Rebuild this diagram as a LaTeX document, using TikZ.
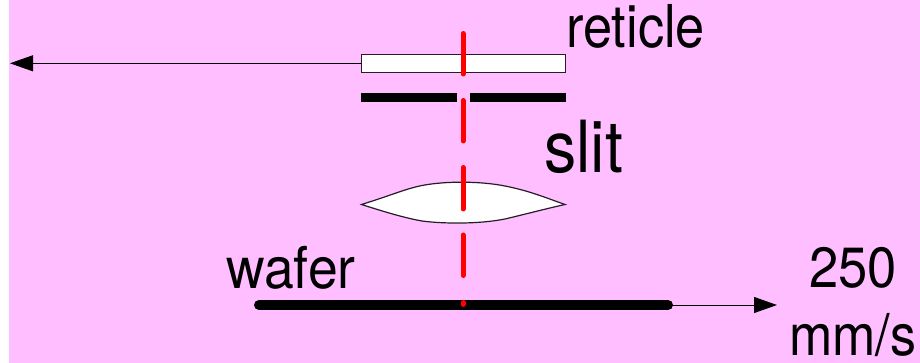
\documentclass[tikz,border=0pt]{standalone}
\usepackage{fontspec}
\setmainfont{TeX Gyre Heros}
\usetikzlibrary{arrows.meta}
\definecolor{bgpink}{RGB}{255,190,255}
\tikzset{
  lbl/.style={inner sep=0pt,anchor=base west,text=black,transform shape},
  thin line/.style={draw=black!85!bgpink,line width=0.9pt},
  mover/.style={draw=black,line width=0.75pt,-{Triangle[length=17.25pt,width=12pt]}},
  blade/.style={draw=black,line width=6.2pt},
  beam/.style={draw=red,line width=3.75pt,line cap=round},
}
\begin{document}
\begin{tikzpicture}[x=0.75pt,y=-0.75pt]
\useasboundingbox (0,0) rectangle (920,363);
\fill[white] (0,0) rectangle (920,363);
\fill[bgpink] (9,0) rectangle (920,363);
% reticle
\node[thin line,fill=white,minimum width=153pt,minimum height=13.5pt,inner sep=0pt,outer sep=0pt,anchor=north west] (reticle) at (361.3,54.3) {};
\coordinate (leftend) at (10,0);
\draw[mover] (reticle.west) -- (leftend |- reticle.west);
% slit blades
\coordinate (s1) at (361,97.5);
\coordinate (s2) at (457,97.5);
\coordinate (s3) at (470,97.5);
\coordinate (s4) at (566,97.5);
\draw[blade] (s1) -- (s2);
\draw[blade] (s3) -- (s4);
% lens
\draw[thin line,fill=white] (361.5,204.5) .. controls (395,194) and (405,189) .. (422,185.5)
  .. controls (445,181) and (480,181) .. (505,186)
  .. controls (530,191) and (545,197.5) .. (565,204.5)
  .. controls (545,209) and (530,213) .. (505,219)
  .. controls (480,224) and (445,224) .. (422,221)
  .. controls (405,218) and (385,212) .. (361.5,204.5) -- cycle;
% wafer
\coordinate (w1) at (259,305);
\coordinate (w2) at (668,305);
\coordinate (rightend) at (777,305);
\draw[mover] (w2) -- (rightend);
\draw[draw=black,line width=7.5pt,line cap=round] (w1) -- (w2);
% red beam
\foreach \a/\b in {33.5/74,100.5/141,167.5/209,235/275.5,302.5/304.5}{
  \coordinate (ba) at (463,\a);
  \coordinate (bb) at (463,\b);
  \draw[beam] (ba) -- (bb);
}
% labels
\node[lbl,font=\fontsize{38.5pt}{38.5pt}\selectfont,xscale=1.02,yscale=1.15] (lr) at (566,47.5) {reticle};
\node[lbl,font=\fontsize{46.5pt}{46.5pt}\selectfont,xscale=1.04,yscale=1.16] (ls) at (544,172.5) {slit};
\node[lbl,font=\fontsize{39pt}{39pt}\selectfont,xscale=1.03,yscale=1.11] (lw) at (226,288) {wafer};
\node[lbl,font=\fontsize{39pt}{39pt}\selectfont,xscale=1.01,yscale=1.09] (l2) at (809,287.5) {250};
\node[lbl,font=\fontsize{39pt}{39pt}\selectfont,yscale=1.11] (lm) at (789,355) {mm/s};
\end{tikzpicture}
\end{document}
